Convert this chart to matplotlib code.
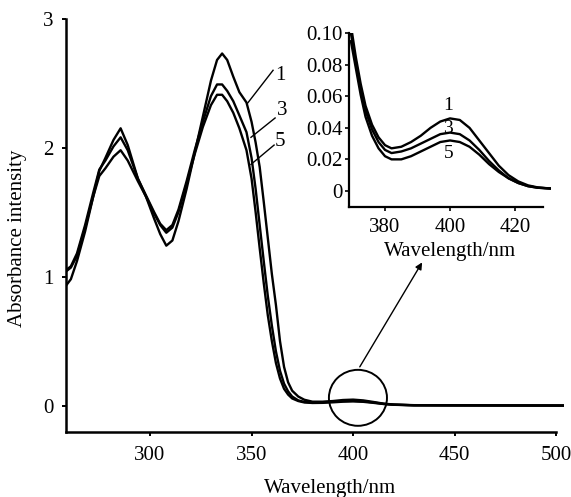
import matplotlib
matplotlib.use("Agg")
import matplotlib.pyplot as plt
from matplotlib.patches import Ellipse

plt.rcParams['font.family'] = ['Liberation Serif', 'DejaVu Serif']
plt.rcParams['mathtext.fontset'] = 'stix'

# ---------------- main spectra ----------------
wavelength = [258.6, 261, 264, 268, 272, 275, 278, 282, 285.5, 289, 294, 298, 302, 305, 308, 311,
              314, 318, 322, 326, 330, 333, 335.5, 338, 341, 344, 347.5, 350, 352, 354, 356, 358,
              360, 362, 364, 366, 368, 370, 373, 376, 380, 385, 390, 395, 400, 405, 410, 415,
              420, 430, 450, 475, 504]
curve1 = [0.93, 0.98, 1.12, 1.35, 1.62, 1.82, 1.92, 2.06, 2.15, 2.02, 1.76, 1.62, 1.45, 1.33, 1.24, 1.28,
          1.43, 1.68, 1.96, 2.24, 2.52, 2.68, 2.73, 2.68, 2.55, 2.43, 2.35, 2.20, 2.04, 1.85, 1.58, 1.30,
          1.02, 0.78, 0.50, 0.30, 0.18, 0.115, 0.07, 0.045, 0.03, 0.03, 0.035, 0.043, 0.046, 0.04, 0.028, 0.015,
          0.008, 0.003, 0.002, 0.001, 0.0]
curve3 = [1.05, 1.08, 1.18, 1.40, 1.65, 1.83, 1.90, 2.01, 2.08, 1.98, 1.76, 1.63, 1.50, 1.41, 1.36, 1.40,
          1.52, 1.74, 1.98, 2.20, 2.40, 2.49, 2.49, 2.44, 2.36, 2.25, 2.12, 1.92, 1.68, 1.40, 1.12, 0.85,
          0.62, 0.42, 0.27, 0.17, 0.11, 0.07, 0.04, 0.028, 0.024, 0.026, 0.03, 0.035, 0.037, 0.033, 0.024, 0.013,
          0.007, 0.002, 0.0015, 0.001, 0.0]
curve5 = [1.04, 1.07, 1.16, 1.38, 1.62, 1.78, 1.84, 1.93, 1.98, 1.90, 1.74, 1.62, 1.49, 1.40, 1.34, 1.38,
          1.50, 1.72, 1.95, 2.16, 2.33, 2.41, 2.41, 2.36, 2.27, 2.15, 1.98, 1.76, 1.50, 1.22, 0.95, 0.70,
          0.50, 0.33, 0.21, 0.13, 0.085, 0.055, 0.035, 0.024, 0.02, 0.021, 0.025, 0.03, 0.032, 0.029, 0.021, 0.012,
          0.006, 0.002, 0.001, 0.0005, 0.0]

x_ticks = [300, 350, 400, 450, 500]
y_ticks = [0, 1, 2, 3]
curve_labels = ['1', '3', '5']

# ---------------- inset spectra ----------------
inset_wavelength = [369.5, 371, 372.5, 374, 376, 378, 380, 382, 385, 388, 391, 394, 397, 400, 403, 406,
                    409, 412, 415, 418, 421, 424, 427, 431]
inset1 = [0.105, 0.085, 0.068, 0.054, 0.042, 0.034, 0.029, 0.027, 0.028, 0.031, 0.035, 0.040, 0.044, 0.046,
          0.045, 0.040, 0.032, 0.024, 0.016, 0.010, 0.006, 0.0035, 0.0022, 0.0015]
inset3 = [0.100, 0.082, 0.065, 0.051, 0.039, 0.031, 0.026, 0.024, 0.025, 0.027, 0.030, 0.033, 0.036, 0.037,
          0.036, 0.032, 0.026, 0.019, 0.013, 0.008, 0.005, 0.003, 0.002, 0.0015]
inset5 = [0.095, 0.078, 0.061, 0.047, 0.035, 0.027, 0.022, 0.020, 0.020, 0.022, 0.025, 0.028, 0.031, 0.032,
          0.031, 0.028, 0.023, 0.017, 0.012, 0.008, 0.005, 0.003, 0.002, 0.0015]
inset_x_ticks = [380, 400, 420]
inset_y_ticks = [0, 0.02, 0.04, 0.06, 0.08, 0.10]
inset_y_ticklabels = ['0', '0.02', '0.04', '0.06', '0.08', '0.10']

FS = 15
fig = plt.figure(figsize=(5.71, 4.97), dpi=100)
ax = fig.add_axes([0.1156, 0.1308, 0.8725, 0.8316])

for y in (curve1, curve3, curve5):
    ax.plot(wavelength, y, color='black', lw=1.7, solid_capstyle='round')

ax.set_xlim(258.6, 504)
ax.set_ylim(-0.205, 3.0)
ax.set_xticks(x_ticks)
ax.set_yticks(y_ticks)
ax.tick_params(direction='out', length=3, width=1.4, labelsize=FS)
ax.tick_params(axis='x', pad=7)
ax.tick_params(axis='y', pad=6)
for s in ('top', 'right'):
    ax.spines[s].set_visible(False)
for s in ('left', 'bottom'):
    ax.spines[s].set_linewidth(1.8)
ax.spines['bottom'].set_bounds(258.6, 500)

fig.text(330 / 571, 1 - 489 / 497, 'Wavelength/nm', ha='center', va='center', fontsize=FS)
fig.text(18 / 571, 1 - 238 / 497, 'Absorbance intensity', ha='center', va='center',
         rotation=90, fontsize=FS)

# curve labels with leader lines
label_pos = [(364.2, 2.56), (365.0, 2.29), (364.2, 2.05)]
leader_start = [(360.6, 2.60), (361.6, 2.23), (361.1, 2.02)]
leader_end = [(347.8, 2.34), (349.7, 2.08), (349.7, 1.87)]
for lab, (lx, ly), (sx, sy), (ex, ey) in zip(curve_labels, label_pos, leader_start, leader_end):
    ax.plot([sx, ex], [sy, ey], color='black', lw=1.0)
    ax.text(lx, ly, lab, ha='center', va='center', fontsize=FS)

# circle highlighting the 400 nm band
ax.add_patch(Ellipse((402.4, 0.06), 28.6, 0.434, fill=False, lw=1.4, ec='black'))
ax.annotate('', xy=(434, 1.11), xytext=(403.3, 0.30),
            arrowprops=dict(arrowstyle='-|>', lw=1.0, color='black', mutation_scale=10,
                            shrinkA=0, shrinkB=0))

# ---------------- inset ----------------
axi = fig.add_axes([0.6117, 0.5839, 0.3529, 0.3491])
axi.set_facecolor('white')
for y in (inset1, inset3, inset5):
    axi.plot(inset_wavelength, y, color='black', lw=1.7)
axi.set_xlim(369, 431)
axi.set_ylim(-0.0101, 0.10)
axi.set_xticks(inset_x_ticks)
axi.set_yticks(inset_y_ticks)
axi.set_yticklabels(inset_y_ticklabels)
axi.tick_params(direction='out', length=3, width=1.2, labelsize=FS)
axi.tick_params(axis='x', pad=5)
axi.tick_params(axis='y', pad=2)
for s in ('top', 'right'):
    axi.spines[s].set_visible(False)
for s in ('left', 'bottom'):
    axi.spines[s].set_linewidth(1.6)
axi.spines['bottom'].set_bounds(369, 428.7)
axi.text(400, -0.0385, 'Wavelength/nm', ha='center', va='center', fontsize=FS)
inset_label_pos = [(399.5, 0.0545), (399.5, 0.0397), (399.5, 0.024)]
for lab, (lx, ly) in zip(curve_labels, inset_label_pos):
    axi.text(lx, ly, lab, ha='center', va='center', fontsize=FS - 1)

fig.savefig('out.png', dpi=100, facecolor='white')
